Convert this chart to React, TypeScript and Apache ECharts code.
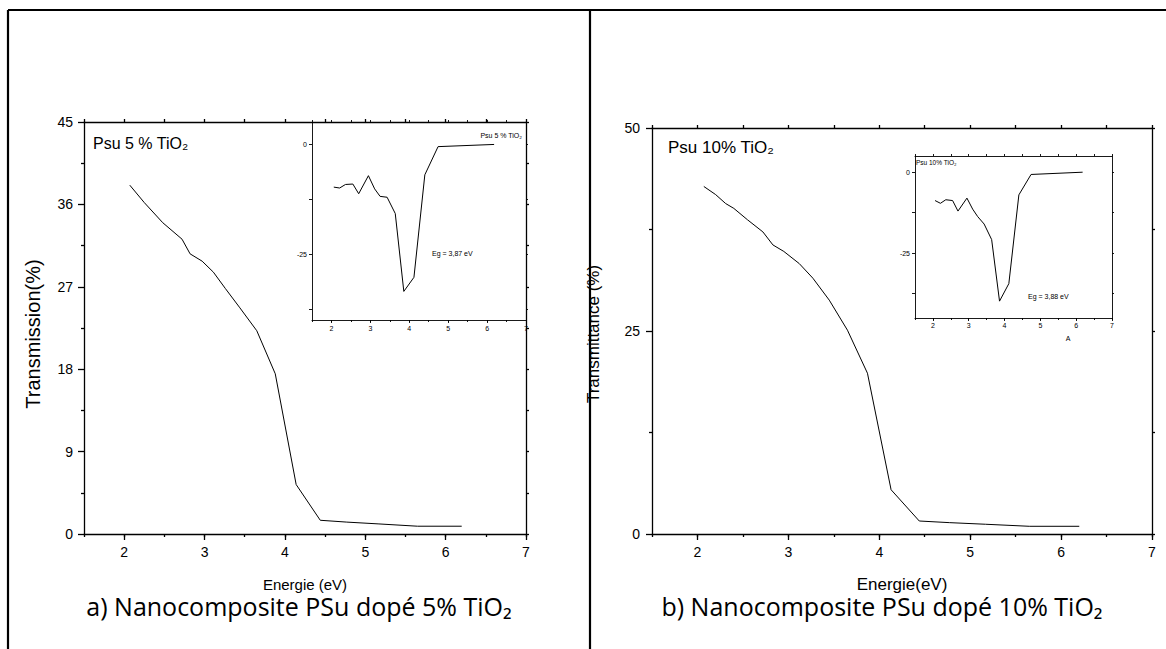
import React, { useEffect, useRef } from "react";
import * as echarts from "echarts";

// ---- Data ----
const xTicks = [2, 3, 4, 5, 6, 7];

// a) PSu 5% TiO2 — transmission vs energy
const energyA = [2.07, 2.25, 2.48, 2.72, 2.82, 2.97, 3.11, 3.26, 3.44, 3.65, 3.88, 4.14, 4.44, 4.77, 5.17, 5.65, 6.2];
const transA = [38.1, 36.2, 34.0, 32.2, 30.6, 29.8, 28.6, 26.8, 24.7, 22.2, 17.5, 5.4, 1.5, 1.3, 1.1, 0.85, 0.85];
// inset a) derivative
const insetEnergyA = [2.06, 2.21, 2.36, 2.55, 2.7, 2.95, 3.11, 3.25, 3.43, 3.64, 3.86, 4.12, 4.4, 4.74, 6.18];
const insetA = [-9.8, -10.0, -9.2, -9.1, -11.3, -7.2, -10.2, -11.9, -12.1, -15.8, -33.5, -30.3, -7.0, -0.6, -0.1];

// b) PSu 10% TiO2 — transmittance vs energy
const energyB = [2.07, 2.2, 2.31, 2.4, 2.55, 2.72, 2.83, 2.95, 3.12, 3.27, 3.45, 3.65, 3.87, 4.13, 4.44, 4.77, 5.17, 5.65, 6.2];
const transB = [42.8, 41.8, 40.7, 40.1, 38.7, 37.2, 35.6, 34.8, 33.3, 31.5, 28.8, 25.1, 19.8, 5.45, 1.6, 1.4, 1.2, 0.95, 0.95];
// inset b) derivative
const insetEnergyB = [2.06, 2.21, 2.36, 2.55, 2.7, 2.95, 3.11, 3.25, 3.43, 3.64, 3.86, 4.12, 4.4, 4.74, 6.18];
const insetB = [-8.75, -9.6, -8.5, -8.75, -12.0, -8.0, -11.4, -13.7, -16.0, -20.8, -39.8, -34.4, -7.0, -0.7, 0.0];

const insetYTicks = [-37.5, -25, -12.5, 0];
const insetYLabels = [-25, 0];

const FONT = '"Liberation Sans", Arial, sans-serif';
const CAPTION_FONT = '"Open Sans", "Noto Sans", sans-serif';

const pairs = (xs: number[], ys: number[]) => xs.map((x, i) => [x, ys[i]]);

type AxisOpts = {
  grid: number;
  fs: number;
  lw: number;
  major: number;
  minor: number;
  margin: number;
};

function xAxesFor(o: AxisOpts) {
  const line = { show: true, onZero: false, lineStyle: { color: "#000", width: o.lw } };
  const tickStyle = { color: "#000", width: o.lw };
  return [
    {
      type: "value", gridIndex: o.grid, min: 1.5, max: 7, position: "bottom",
      axisLine: line,
      axisTick: { show: true, length: o.major, customValues: xTicks, lineStyle: tickStyle },
      axisLabel: {
        show: true, customValues: xTicks, margin: o.margin, fontSize: o.fs, color: "#000",
        fontFamily: FONT, showMaxLabel: true, showMinLabel: true,
      },
      splitLine: { show: false },
    },
    {
      type: "value", gridIndex: o.grid, min: 1.5, max: 7, interval: 0.5, position: "bottom",
      axisLine: { show: false, onZero: false },
      axisTick: { show: true, length: o.minor, lineStyle: tickStyle },
      axisLabel: { show: false },
      splitLine: { show: false },
    },
    {
      type: "value", gridIndex: o.grid, min: 1.5, max: 7, interval: 0.5, position: "top",
      axisLine: line,
      axisTick: { show: true, length: o.minor, lineStyle: tickStyle },
      axisLabel: { show: false },
      splitLine: { show: false },
    },
  ];
}

export default function App() {
  const ref = useRef<HTMLDivElement>(null);

  useEffect(() => {
    if (!ref.current) return;
    const chart = echarts.init(ref.current, null, { renderer: "svg" });

    const mainA: AxisOpts = { grid: 0, fs: 14, lw: 1.3, major: 6, minor: 3, margin: 11 };
    const insA: AxisOpts = { grid: 1, fs: 7, lw: 0.9, major: 3, minor: 2, margin: 5 };
    const mainB: AxisOpts = { grid: 2, fs: 14, lw: 1.3, major: 6, minor: 3, margin: 11 };
    const insB: AxisOpts = { grid: 3, fs: 7, lw: 0.9, major: 3, minor: 2, margin: 4 };

    const xAxis = [...xAxesFor(mainA), ...xAxesFor(insA), ...xAxesFor(mainB), ...xAxesFor(insB)];

    const blk = "#000";
    const yLine = (w: number) => ({ show: true, onZero: false, lineStyle: { color: blk, width: w } });
    const yAxis: any[] = [
      // grid 0 main a
      {
        type: "value", gridIndex: 0, min: 0, max: 45, interval: 9, position: "left",
        axisLine: yLine(1.3),
        axisTick: { show: true, length: 6, lineStyle: { color: blk, width: 1.3 } },
        minorTick: { show: true, splitNumber: 2, length: 3, lineStyle: { color: blk, width: 1.3 } },
        axisLabel: { margin: 11, fontSize: 14, color: blk, fontFamily: FONT },
        splitLine: { show: false },
      },
      {
        type: "value", gridIndex: 0, min: 0, max: 45, interval: 4.5, position: "right",
        axisLine: yLine(1.3),
        axisTick: { show: true, length: 3, lineStyle: { color: blk, width: 1.3 } },
        axisLabel: { show: false },
        splitLine: { show: false },
      },
      // grid 1 inset a
      {
        type: "value", gridIndex: 1, min: -40, max: 5, position: "left",
        axisLine: yLine(0.9),
        axisTick: { show: true, length: 3, customValues: insetYTicks, lineStyle: { color: blk, width: 0.9 } },
        axisLabel: { customValues: insetYLabels, margin: 5, fontSize: 7, color: blk, fontFamily: FONT },
        splitLine: { show: false },
      },
      {
        type: "value", gridIndex: 1, min: -40, max: 5, position: "right",
        axisLine: yLine(0.9),
        axisTick: { show: true, length: 2, customValues: insetYTicks, lineStyle: { color: blk, width: 0.9 } },
        axisLabel: { show: false },
        splitLine: { show: false },
      },
      // grid 2 main b
      {
        type: "value", gridIndex: 2, min: 0, max: 50, interval: 25, position: "left",
        axisLine: yLine(1.3),
        axisTick: { show: true, length: 6, lineStyle: { color: blk, width: 1.3 } },
        minorTick: { show: true, splitNumber: 2, length: 3, lineStyle: { color: blk, width: 1.3 } },
        axisLabel: { margin: 12, fontSize: 14, color: blk, fontFamily: FONT },
        splitLine: { show: false },
      },
      {
        type: "value", gridIndex: 2, min: 0, max: 50, interval: 12.5, position: "right",
        axisLine: yLine(1.3),
        axisTick: { show: true, length: 3, lineStyle: { color: blk, width: 1.3 } },
        axisLabel: { show: false },
        splitLine: { show: false },
      },
      // grid 3 inset b
      {
        type: "value", gridIndex: 3, min: -45, max: 5, position: "left",
        axisLine: yLine(0.9),
        axisTick: { show: true, length: 3, customValues: insetYTicks, lineStyle: { color: blk, width: 0.9 } },
        axisLabel: { customValues: insetYLabels, margin: 5, fontSize: 7, color: blk, fontFamily: FONT },
        splitLine: { show: false },
      },
      {
        type: "value", gridIndex: 3, min: -45, max: 5, position: "right",
        axisLine: yLine(0.9),
        axisTick: { show: true, length: 2, customValues: insetYTicks, lineStyle: { color: blk, width: 0.9 } },
        axisLabel: { show: false },
        splitLine: { show: false },
      },
    ];

    const lineSeries = (name: string, xIdx: number, yIdx: number, data: number[][]) => ({
      name, type: "line", xAxisIndex: xIdx, yAxisIndex: yIdx, data,
      showSymbol: false, symbol: "none", smooth: false,
      lineStyle: { color: "#000", width: 1 },
      silent: true,
    });

    const txt = (text: string, x: number, y: number, size: number, opts: any = {}) => ({
      type: "text", x, y, rotation: opts.rotation || 0, z: 100,
      style: {
        text, fill: "#000", fontSize: size, fontFamily: opts.family || FONT,
        align: opts.align || "left", verticalAlign: opts.va || "middle",
      },
    });

    const border = (x1: number, y1: number, x2: number, y2: number) => ({
      type: "line", z: 50,
      shape: { x1, y1, x2, y2 },
      style: { stroke: "#000", lineWidth: 2.2 },
    });

    chart.setOption({
      animation: false,
      backgroundColor: "#fff",
      grid: [
        { left: 84, top: 122, width: 442, height: 412, containLabel: false },
        { left: 312, top: 122, width: 214, height: 198, containLabel: false },
        { left: 652, top: 128, width: 500, height: 406, containLabel: false },
        { left: 915, top: 156, width: 197, height: 162, containLabel: false },
      ],
      xAxis,
      yAxis,
      series: [
        lineSeries("Transmission 5%", 0, 0, pairs(energyA, transA)),
        lineSeries("Dérivée 5%", 3, 2, pairs(insetEnergyA, insetA)),
        lineSeries("Transmittance 10%", 6, 4, pairs(energyB, transB)),
        lineSeries("Dérivée 10%", 9, 6, pairs(insetEnergyB, insetB)),
      ],
      graphic: [
        border(8, 10, 1166, 10),
        border(8, 10, 8, 649),
        border(590, 10, 590, 649),
        // left panel texts
        txt("Psu 5 % TiO₂", 93, 143, 16),
        txt("Transmission(%)", 33, 334, 20, { rotation: Math.PI / 2, align: "center" }),
        txt("Energie (eV)", 305, 584, 15, { align: "center" }),
        txt("a) Nanocomposite PSu dopé 5% TiO₂", 299, 606, 25, { align: "center", family: CAPTION_FONT }),
        txt("Psu 5 % TiO₂", 522, 135, 7, { align: "right" }),
        txt("Eg = 3,87 eV", 432, 253, 7),
        // right panel texts
        txt("Psu 10% TiO₂", 668, 147, 17),
        txt("Transmittance (%)", 593, 334, 17, { rotation: Math.PI / 2, align: "center" }),
        txt("Energie(eV)", 902, 584, 17, { align: "center" }),
        txt("b) Nanocomposite PSu dopé 10% TiO₂", 882, 606, 25, { align: "center", family: CAPTION_FONT }),
        txt("Psu 10% TiO₂", 916, 162, 6.5),
        txt("Eg = 3,88 eV", 1028, 296, 7),
        txt("A", 1068, 338, 7, { align: "center" }),
      ],
    });

    return () => chart.dispose();
  }, []);

  return (
    <div
      ref={ref}
      style={{ position: "fixed", left: 0, top: 0, width: 1166, height: 649, background: "#fff" }}
    />
  );
}
